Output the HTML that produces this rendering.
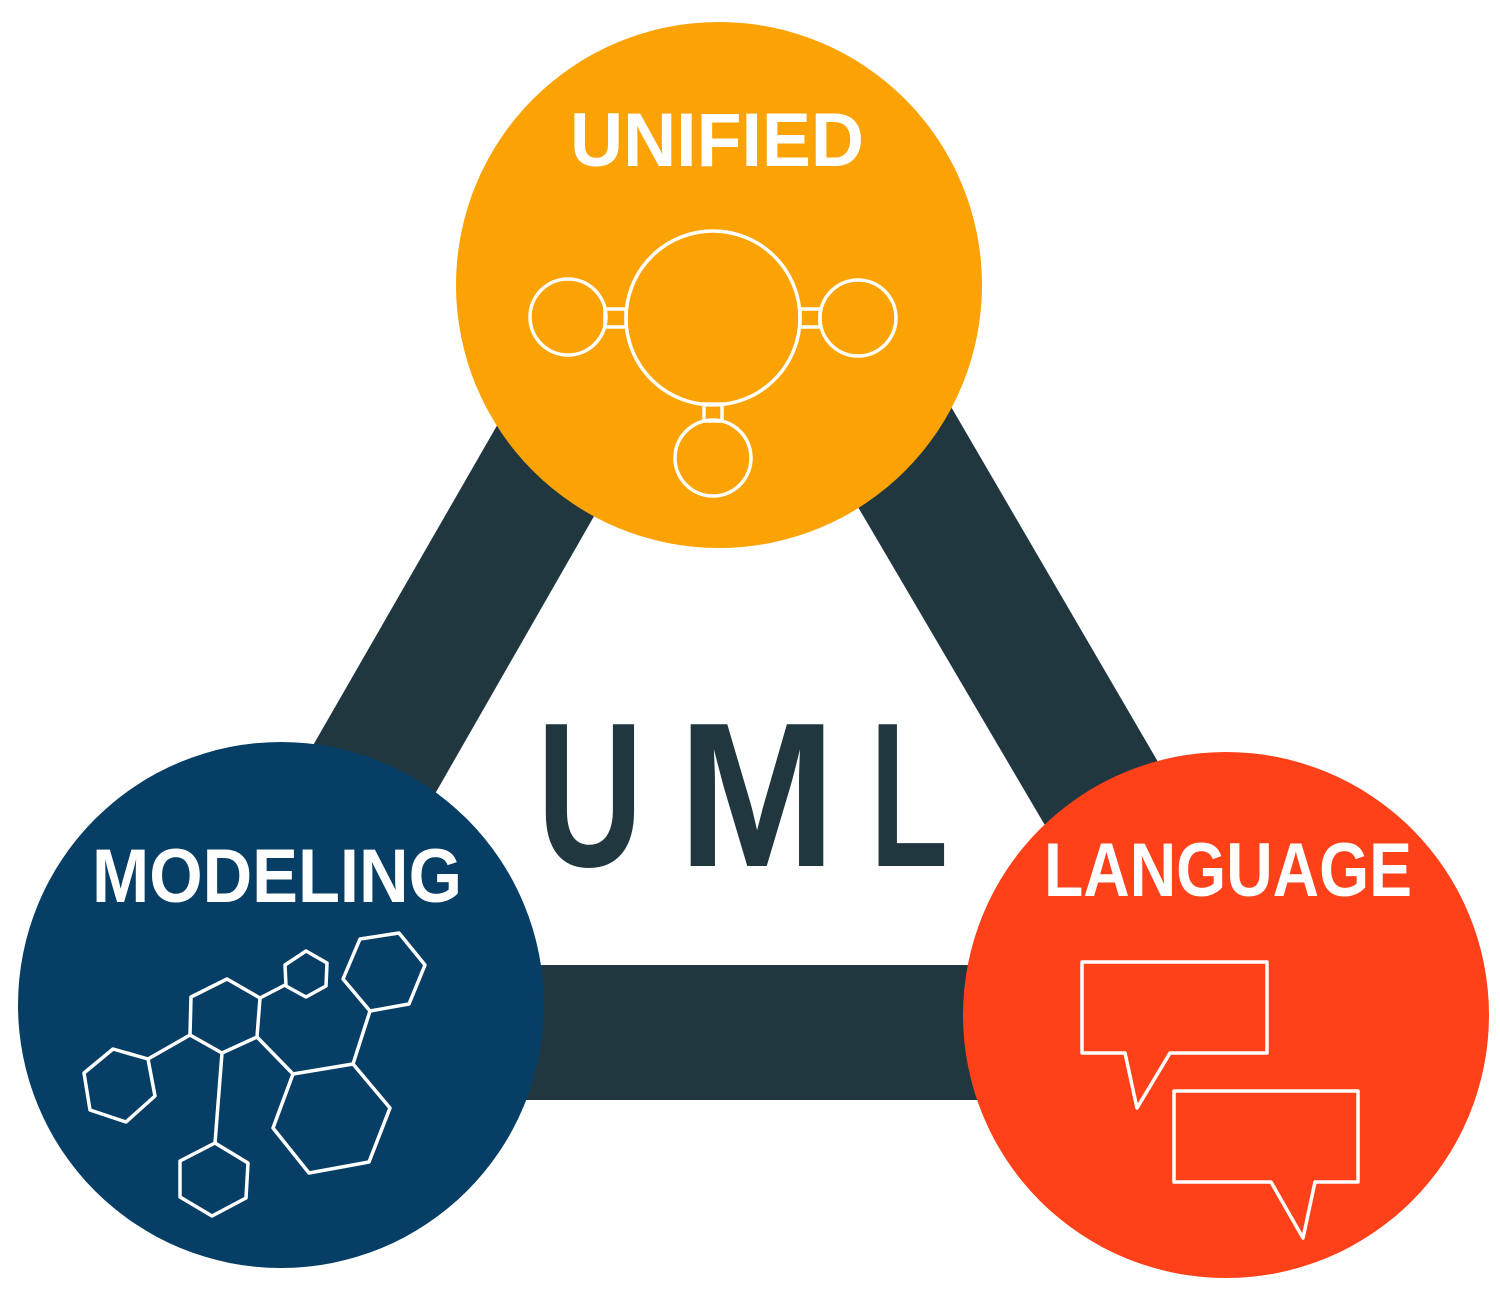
<!DOCTYPE html>
<html><head><meta charset="utf-8"><style>
html,body{margin:0;padding:0;background:#fff;width:1500px;height:1298px;overflow:hidden}
svg{display:block}
</style></head><body>
<svg width="1500" height="1298" viewBox="0 0 1500 1298" xmlns="http://www.w3.org/2000/svg">
<path fill="#213740" fill-rule="evenodd" d="M728,24 L1355,1100 L109,1100 Z M727,284 L337,965 L1127,965 Z"/>
<g font-family="Liberation Sans, sans-serif" font-weight="bold" font-size="206" fill="#213740">
<text x="537" y="866" textLength="106" lengthAdjust="spacingAndGlyphs">U</text>
<text x="678" y="866" textLength="158" lengthAdjust="spacingAndGlyphs">M</text>
<text x="870" y="866" textLength="78" lengthAdjust="spacingAndGlyphs">L</text>
</g>

<circle cx="719" cy="285" r="263" fill="#FBA304"/>
<circle cx="281" cy="1005" r="263" fill="#063E66"/>
<circle cx="1226" cy="1015" r="263" fill="#FF4119"/>

<g font-family="Liberation Sans, sans-serif" font-weight="bold" fill="#fff" font-size="76">
<text x="570" y="166" textLength="294" lengthAdjust="spacingAndGlyphs">UNIFIED</text>
<text x="92" y="902" textLength="370" lengthAdjust="spacingAndGlyphs">MODELING</text>
<text x="1044" y="896" textLength="368" lengthAdjust="spacingAndGlyphs">LANGUAGE</text>
</g>

<g fill="none" stroke="#fff" stroke-width="3.5">
<circle cx="713" cy="318" r="87"/>
<circle cx="568" cy="317" r="38"/>
<circle cx="858" cy="318" r="38"/>
<circle cx="713" cy="458" r="38"/>
<rect x="605" y="309" width="21" height="18"/>
<rect x="800" y="309" width="20" height="18"/>
<rect x="704" y="404" width="18" height="17"/>
</g>

<g fill="none" stroke="#fff" stroke-width="3.5" stroke-linejoin="round">
<polygon points="84,1073 113,1049 148,1059 155,1096 126,1122 90,1110"/>
<polygon points="191,997 227,979 260,998 257,1037 222,1053 190,1035"/>
<polygon points="285,965 306,951 327,963 326,986 306,997 286,986"/>
<polygon points="343,979 360,939 399,933 425,965 409,1004 370,1011"/>
<polygon points="273,1128 293,1074 353,1064 390,1108 369,1162 309,1173"/>
<polygon points="180,1161 215,1143 248,1163 246,1198 212,1216 180,1197"/>
<line x1="148" y1="1059" x2="190" y2="1035"/>
<line x1="222" y1="1053" x2="215" y2="1143"/>
<line x1="257" y1="1037" x2="293" y2="1074"/>
<line x1="260" y1="998" x2="285" y2="985"/>
<line x1="370" y1="1011" x2="353" y2="1064"/>
</g>

<g fill="none" stroke="#fff" stroke-width="3.5" stroke-linejoin="round">
<polygon points="1082,962 1267,962 1267,1053 1170,1053 1137,1108 1125,1053 1082,1053"/>
<polygon points="1174,1091 1358,1091 1358,1182 1315,1182 1303,1238 1271,1182 1174,1182"/>
</g>
</svg>
</body></html>
